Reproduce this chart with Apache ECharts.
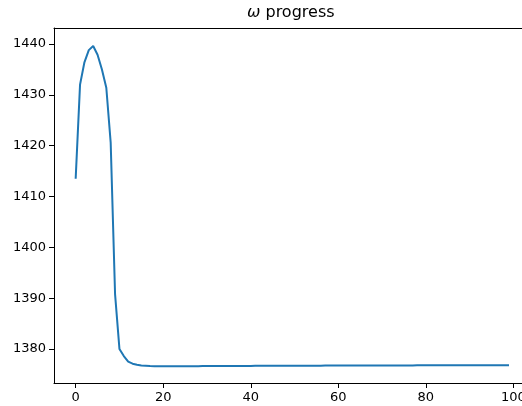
<!DOCTYPE html>
<html>
<head>
<meta charset="utf-8">
<script src="https://cdn.jsdelivr.net/npm/echarts@6/dist/echarts.min.js"></script>
<style>html,body{margin:0;padding:0;background:#fff}#c{width:522px;height:406px}</style>
</head>
<body>
<div id="c"></div>
<script>
const titleText = 'ω progress';
const xTicks = [0, 20, 40, 60, 80, 100];
const yTicks = [1380, 1390, 1400, 1410, 1420, 1430, 1440];
const omega = [
  1413.5, 1432.0, 1436.4, 1438.8, 1439.6, 1437.9, 1435.0, 1431.4, 1420.6, 1390.8,
  1380.0, 1378.6, 1377.5, 1377.1, 1376.9, 1376.75, 1376.7, 1376.65, 1376.62, 1376.6,
  1376.6, 1376.6, 1376.6, 1376.61, 1376.61, 1376.61, 1376.62, 1376.62, 1376.62, 1376.63,
  1376.63, 1376.63, 1376.64, 1376.64, 1376.64, 1376.65, 1376.65, 1376.65, 1376.66, 1376.66,
  1376.66, 1376.67, 1376.67, 1376.67, 1376.68, 1376.68, 1376.68, 1376.69, 1376.69, 1376.69,
  1376.7, 1376.7, 1376.7, 1376.7, 1376.71, 1376.71, 1376.71, 1376.72, 1376.72, 1376.72,
  1376.72, 1376.73, 1376.73, 1376.73, 1376.73, 1376.74, 1376.74, 1376.74, 1376.74, 1376.75,
  1376.75, 1376.75, 1376.75, 1376.76, 1376.76, 1376.76, 1376.76, 1376.76, 1376.77, 1376.77,
  1376.77, 1376.77, 1376.77, 1376.78, 1376.78, 1376.78, 1376.78, 1376.78, 1376.79, 1376.79,
  1376.79, 1376.79, 1376.79, 1376.8, 1376.8, 1376.8, 1376.8, 1376.8, 1376.8, 1376.8
];
const data = omega.map((v, i) => [i, v]);

const chart = echarts.init(document.getElementById('c'), null, {renderer: 'canvas'});
const font = 'DejaVu Sans';
const xMin = -4.95, xMax = 101.97;
chart.setOption({
  animation: false,
  textStyle: {fontFamily: font},
  grid: {left: 54, top: 28, width: 468, height: 355, show: false, containLabel: false, outerBoundsMode: 'none'},
  graphic: [{
    type: 'text', left: 247, top: 5,
    style: {
      text: '{i|ω} progress',
      rich: {i: {fontStyle: 'italic', fontFamily: font, fontSize: 16, fill: '#000'}},
      fontFamily: font, fontSize: 16, fill: '#000'
    }
  }],
  xAxis: [{
    type: 'value', min: xMin, max: xMax, position: 'bottom',
    axisLine: {show: true, onZero: false, lineStyle: {color: '#000', width: 1}},
    axisTick: {show: true, customValues: xTicks, length: 5, lineStyle: {color: '#000'}},
    axisLabel: {customValues: xTicks, color: '#000', fontSize: 13, margin: 8, fontFamily: font, formatter: v => String(v), hideOverlap: false},
    splitLine: {show: false}
  }, {
    type: 'value', min: xMin, max: xMax, position: 'top',
    axisLine: {show: true, onZero: false, lineStyle: {color: '#000', width: 1}},
    axisTick: {show: false}, axisLabel: {show: false}, splitLine: {show: false}
  }],
  yAxis: {
    type: 'value', min: 1373.3, max: 1443.15,
    axisLine: {show: true, onZero: false, lineStyle: {color: '#000', width: 1}},
    axisTick: {show: true, customValues: yTicks, length: 5, lineStyle: {color: '#000'}},
    axisLabel: {customValues: yTicks, color: '#000', fontSize: 13, margin: 8, fontFamily: font, formatter: v => String(v)},
    splitLine: {show: false}
  },
  series: [{
    type: 'line', data: data, showSymbol: false, symbol: 'none', xAxisIndex: 0,
    lineStyle: {color: '#1f77b4', width: 2}, clip: true
  }]
});
</script>
</body>
</html>
